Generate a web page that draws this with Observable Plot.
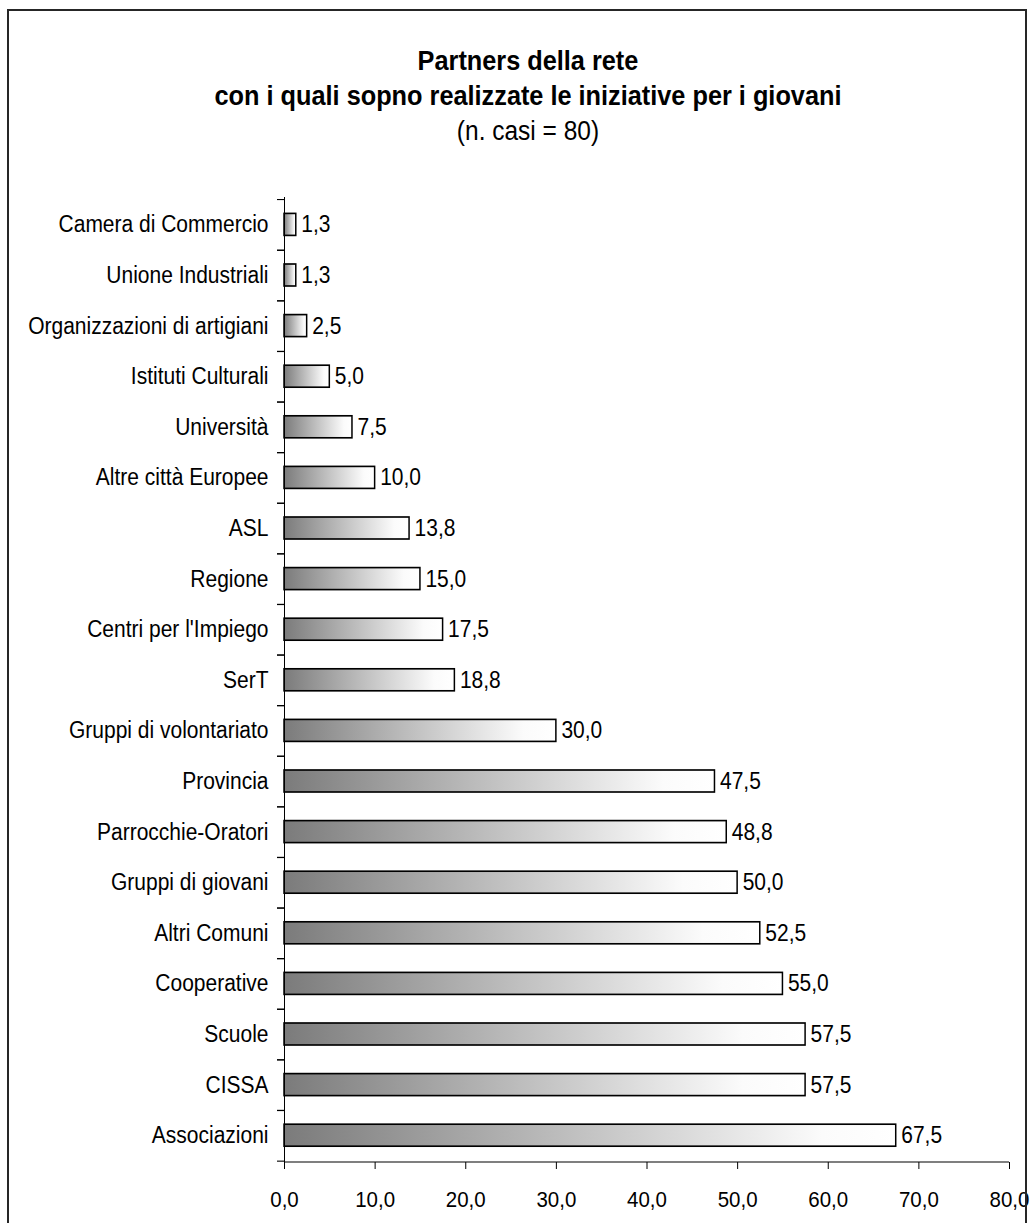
<!DOCTYPE html>
<html>
<head>
<meta charset="utf-8">
<script src="https://cdn.jsdelivr.net/npm/d3@7"></script>
<script src="https://cdn.jsdelivr.net/npm/@observablehq/plot@0.6"></script>
<style>
  html, body { margin: 0; padding: 0; background: #fff; }
  #chart { position: relative; width: 1034px; height: 1223px; overflow: hidden; background: #fff;
           font-family: "Liberation Sans", Arial, sans-serif; color: #000; }
  /* the whole chart is laid out in a slightly squat box and stretched vertically */
  #inner { position: absolute; left: 0; top: 0; width: 1034px; height: 1112px;
           transform: scale(1, 1.1); transform-origin: 0 0; }
  #frame { position: absolute; left: 7px; top: 9px; width: 1020px; height: 1300px;
           border: 2px solid #262626; box-sizing: border-box; pointer-events: none; }
  #title { position: relative; height: 155px; }
  #title div { position: absolute; left: 22px; right: 0; text-align: center; white-space: nowrap; }
  .t1 { top: 40px; font-size: 25.3px; font-weight: bold; line-height: 30px; }
  .t2 { top: 70.7px; font-size: 25.3px; font-weight: bold; line-height: 30px; }
  .sub { top: 104px; font-size: 24.5px; line-height: 30px; }
  #plot { position: relative; }
  #plot svg { display: block; }
</style>
</head>
<body>
<div id="chart">
  <div id="inner">
    <div id="title">
      <div class="t1">Partners della rete</div>
      <div class="t2">con i quali sopno realizzate le iniziative per i giovani</div>
      <div class="sub">(n. casi = 80)</div>
    </div>
    <div id="plot"></div>
  </div>
  <div id="frame"></div>
</div>
<script>
// Partners, listed from top to bottom, and the share of cases (%) for each
const partners = [
  "Camera di Commercio",
  "Unione Industriali",
  "Organizzazioni di artigiani",
  "Istituti Culturali",
  "Università",
  "Altre città Europee",
  "ASL",
  "Regione",
  "Centri per l'Impiego",
  "SerT",
  "Gruppi di volontariato",
  "Provincia",
  "Parrocchie-Oratori",
  "Gruppi di giovani",
  "Altri Comuni",
  "Cooperative",
  "Scuole",
  "CISSA",
  "Associazioni"
];
const percentages = [
  1.3, 1.3, 2.5, 5.0, 7.5, 10.0, 13.8, 15.0, 17.5, 18.8,
  30.0, 47.5, 48.8, 50.0, 52.5, 55.0, 57.5, 57.5, 67.5
];
const xTicks = [0, 10, 20, 30, 40, 50, 60, 70, 80];

const rows = partners.map((name, i) => ({name, value: percentages[i]}));
const fmt = v => v.toFixed(1).replace(".", ",");

const svgHeight = 957, mTop = 24, mBottom = 55.6;
const step = (svgHeight - mTop - mBottom) / partners.length;
const font = '"Liberation Sans", Arial, sans-serif';

// horizontal shading used by every bar: grey on the left fading to white
const shading = () => {
  const defs = d3.create("svg:defs");
  const g = defs.append("linearGradient").attr("id", "barShade")
    .attr("x1", "0").attr("x2", "1").attr("y1", "0").attr("y2", "0");
  g.append("stop").attr("offset", "0").attr("stop-color", "#7b7b7b");
  g.append("stop").attr("offset", "0.88").attr("stop-color", "#fbfbfb");
  g.append("stop").attr("offset", "1").attr("stop-color", "#ffffff");
  return defs.node();
};

// x-axis baseline along the bottom of the plotting area
const baseline = (index, scales, values, dims) => {
  const y = dims.height - dims.marginBottom;
  return d3.create("svg:line")
    .attr("x1", dims.marginLeft).attr("x2", dims.width - dims.marginRight)
    .attr("y1", y).attr("y2", y)
    .attr("stroke", "#000").attr("stroke-width", 1)
    .node();
};

const chart = Plot.plot({
  width: 1034,
  height: svgHeight,
  marginTop: mTop,
  marginBottom: mBottom,
  marginLeft: 284,
  marginRight: 25,
  style: {fontFamily: font, fontSize: "21px", color: "#000", background: "transparent", overflow: "visible"},
  x: {domain: [0, 80]},
  y: {domain: partners, paddingInner: 0.56, paddingOuter: 0.28},
  marks: [
    shading,
    Plot.barX(rows, {x: "value", y: "name", fill: "url(#barShade)", stroke: "#000", strokeWidth: 1.5}),
    Plot.text(rows, {x: "value", y: "name", text: d => fmt(d.value), textAnchor: "start", dx: 5,
                     fontSize: 21, fill: "#000"}),
    Plot.ruleX([0], {stroke: "#000", strokeWidth: 1}),
    baseline,
    Plot.axisY({tickSize: 0, tickPadding: 16, label: null, fontSize: 21, fill: "#000"}),
    Plot.axisY({tickSize: 7, tickFormat: () => "", label: null, dy: step / 2, stroke: "#000", strokeOpacity: 1}),
    Plot.axisY({tickSize: 7, tickFormat: () => "", label: null, dy: -step / 2, stroke: "#000", strokeOpacity: 1}),
    Plot.axisX({ticks: xTicks, tickSize: 6.4, tickPadding: 19, tickFormat: fmt, label: null,
                fontSize: 20.5, fill: "#000", stroke: "#000", strokeOpacity: 1})
  ]
});
document.getElementById("plot").appendChild(chart);
</script>
</body>
</html>
